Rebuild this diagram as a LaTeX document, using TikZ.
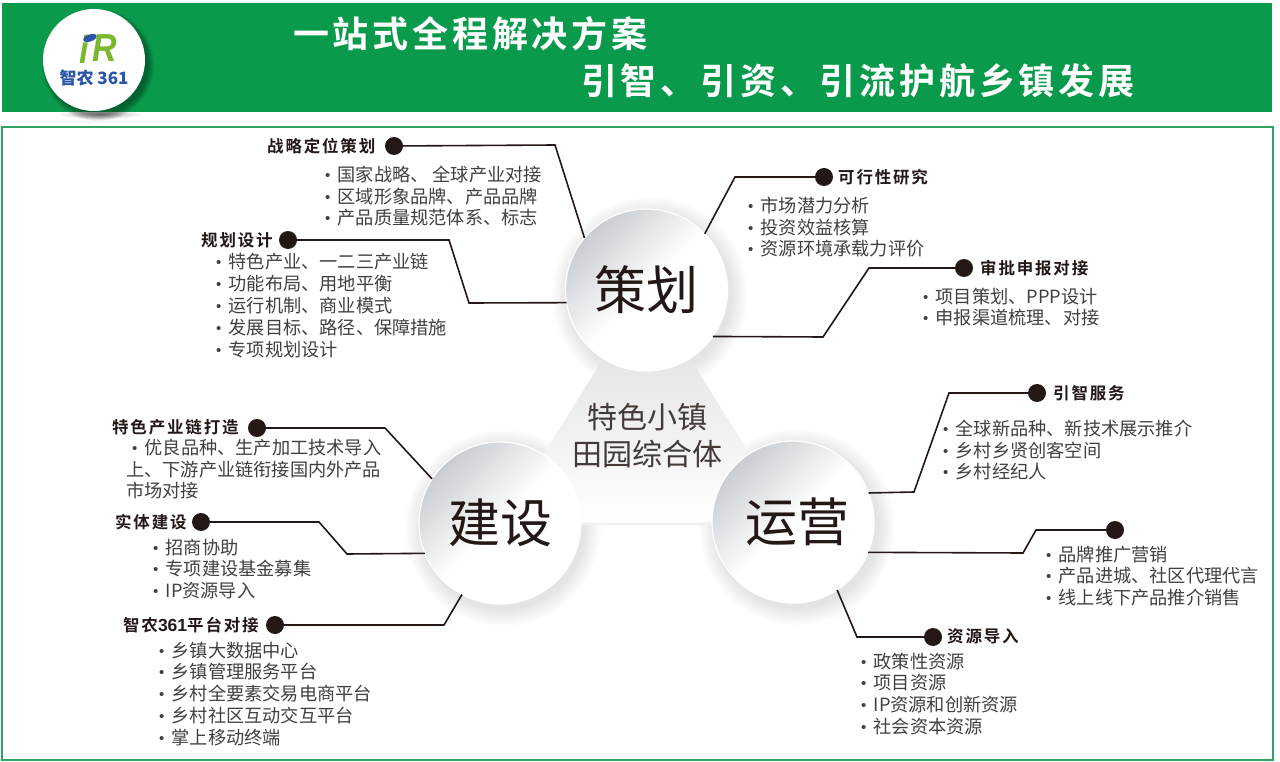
\documentclass[tikz,border=0pt]{standalone}
\usepackage{fontspec}
\usepackage{xcolor}
\setmainfont{Noto Sans CJK SC}
\newfontfamily\headfont[LetterSpace=11,BoldFont={Noto Sans CJK SC Bold}]{Noto Sans CJK SC}
\newfontfamily\titlefont[LetterSpace=10.5,BoldFont={Noto Sans CJK SC Bold}]{Noto Sans CJK SC}
\newfontfamily\logofont{Liberation Sans}
\definecolor{bannergreen}{HTML}{0A9A4C}
\definecolor{framegreen}{HTML}{2FA35F}
\definecolor{inkdark}{HTML}{231815}
\definecolor{listgray}{HTML}{404040}
\definecolor{logoblue}{HTML}{2A55A8}
\definecolor{logogreen}{HTML}{7AB82E}
\definecolor{platetop}{HTML}{C9CDD1}
\newcommand{\itm}{\makebox[12.5pt][l]{\logofont\fontsize{15}{15}\selectfont\raisebox{1pt}{•}}}
\tikzset{
    plate/.style={circle, minimum size=162pt, inner sep=0pt, outer sep=0pt, draw=white, line width=1.2pt,
        top color=platetop, bottom color=white, middle color=white, shading angle=45,
        text=inkdark, font=\fontsize{52}{52}\selectfont},
    dotnode/.style={circle, fill=inkdark, minimum size=18pt, inner sep=0pt, outer sep=0pt},
    headnode/.style={anchor=west, inner sep=0pt, text=inkdark, font=\headfont\bfseries\fontsize{16.5}{16.5}\selectfont},
    listnode/.style={anchor=north west, inner sep=0pt, align=left, text=listgray, font=\fontsize{18.2}{21.9}\selectfont},
    link/.style={draw=inkdark, line width=1.6pt},
    titlenode/.style={anchor=west, inner sep=0pt, text=white, font=\titlefont\bfseries\fontsize{36}{36}\selectfont}
}
\begin{document}
\begin{tikzpicture}[x=1pt,y=-1pt]
    \useasboundingbox (0,0) rectangle (1280,762);

    % Banner and frame
    \fill[bannergreen] (2,3) rectangle (1272,112);
    \draw[framegreen, line width=1.6pt] (2,127) rectangle (1273,760);
    \shade[inner color=gray!70, outer color=white] (100,114) ellipse (42 and 5);
    \fill[bannergreen] (60,103) rectangle (150,112);
    \foreach \r in {50,51,...,56} {
        \fill[black, opacity=.06] (98,65) circle (\r);
    }
    \fill[white] (94,60) circle (51);

    % Logo
    \node[inner sep=0pt, text=logogreen, yscale=1.15, transform shape, font=\logofont\bfseries\itshape\fontsize{34}{34}\selectfont] (logoi) at (84,49) {i};
    \node[inner sep=0pt, text=logogreen, yscale=1.15, transform shape, font=\logofont\bfseries\itshape\fontsize{34}{34}\selectfont] (logor) at (105,48) {R};
    \fill[logoblue, rotate around={20:(90,38)}] (90,38) ellipse (7 and 3.5);
    \node[inner sep=0pt, text=logoblue, font=\bfseries\fontsize{17}{17}\selectfont] (logotext) at (94,78) {智农 361};

    % Title
    \node[titlenode] (title1) at (293,34) {一站式全程解决方案};
    \node[titlenode] (title2) at (581,81) {引智、引资、引流护航乡镇发展};

    % Soft shadows and the middle triangle
    \foreach \x/\y in {650/295, 503/528, 797/527} {
        \foreach \r in {82,84,...,98} {
            \fill[black, opacity=.012] (\x,\y) circle (\r);
        }
    }
    \draw[gray!12, line width=2pt] (689,362) -- (745,459);
    \draw[gray!12, line width=2pt] (560,524) -- (730,524);
    \shade[top color=gray!28, bottom color=white] (646.5,290) -- (500,523) -- (793,522) -- cycle;

    % Circles
    \node[plate] (plan) at (646.5,290) {策划};
    \node[plate] (build) at (500,523) {建设};
    \node[plate] (run) at (793,522) {\hspace{8pt}运营};
    \node[inner sep=0pt, align=center, text=inkdark!85, font=\fontsize{30}{37}\selectfont] (town) at (647,436) {特色小镇\\田园综合体};

    % Points
    \node[dotnode] (P1) at (394,146) {};
    \node[dotnode] (P2) at (288,240) {};
    \node[dotnode] (P3) at (824,177) {};
    \node[dotnode] (P4) at (964,268) {};
    \node[dotnode] (R1) at (1037,393) {};
    \node[dotnode] (R2) at (1115,530) {};
    \node[dotnode] (R3) at (933,637) {};
    \node[dotnode] (B1) at (257,428) {};
    \node[dotnode] (B2) at (201,522) {};
    \node[dotnode] (B3) at (275,625) {};

    % Connectors
    \draw[link] (P1) -- (555,145) -- (plan.140);
    \draw[link] (P2) -- (449,240) -- (469,303) -- (plan.189);
    \draw[link] (P3) -- (735,177) -- (plan.44);
    \draw[link] (P4) -- (869,268) -- (823,337) -- (plan.-35);
    \draw[link] (R1) -- (949,393) -- (914,492) -- (run.21);
    \draw[link] (R2) -- (1036,530) -- (1023,553) -- (run.-22);
    \draw[link] (R3) -- (857,637) -- (run.-57);
    \draw[link] (B1) -- (385,428) -- (build.147);
    \draw[link] (B2) -- (319,522) -- (347,554) -- (build.202);
    \draw[link] (B3) -- (444,625) -- (build.242);

    % Headings
    \node[headnode] (HP1) at (267,146) {战略定位策划};
    \node[headnode] (HP2) at (201,240) {规划设计};
    \node[headnode] (HP3) at (838,177) {可行性研究};
    \node[headnode] (HP4) at (980,268) {审批申报对接};
    \node[headnode] (HR1) at (1053,393) {引智服务};
    \node[headnode] (HR3) at (947,636) {资源导入};
    \node[headnode] (HB1) at (112,427) {特色产业链打造};
    \node[headnode] (HB2) at (115,522) {实体建设};
    \node[headnode] (HB3) at (123,625) {智农{\logofont\bfseries\fontsize{17.5}{17.5}\selectfont 361}平台对接};

    % Lists
    \node[listnode] (LP1) at (325,165.5) {\itm 国家战略、 全球产业对接\\\itm 区域形象品牌、产品品牌\\\itm 产品质量规范体系、标志};
    \node[listnode] (LP2) at (216,253) {\itm 特色产业、一二三产业链\\\itm 功能布局、用地平衡\\\itm 运行机制、商业模式\\\itm 发展目标、路径、保障措施\\\itm 专项规划设计};
    \node[listnode] (LP3) at (748,196.5) {\itm 市场潜力分析\\\itm 投资效益核算\\\itm 资源环境承载力评价};
    \node[listnode] (LP4) at (923,287.5) {\itm 项目策划、PPP设计\\\itm 申报渠道梳理、对接};
    \node[listnode] (LR1) at (943,419.5) {\itm 全球新品种、新技术展示推介\\\itm 乡村乡贤创客空间\\\itm 乡村经纪人};
    \node[listnode] (LR2) at (1046,545.5) {\itm 品牌推广营销\\\itm 产品进城、社区代理代言\\\itm 线上线下产品推介销售};
    \node[listnode] (LR3) at (861,652.5) {\itm 政策性资源\\\itm 项目资源\\\itm IP资源和创新资源\\\itm 社会资本资源};
    \node[listnode] (LB1) at (126,438.5) {\hspace{6pt}\itm 优良品种、生产加工技术导入\\上、下游产业链衔接国内外产品\\市场对接};
    \node[listnode] (LB2) at (153,538.5) {\itm 招商协助\\\itm 专项建设基金募集\\\itm IP资源导入};
    \node[listnode] (LB3) at (159,641.5) {\itm 乡镇大数据中心\\\itm 乡镇管理服务平台\\\itm 乡村全要素交易电商平台\\\itm 乡村社区互动交互平台\\\itm 掌上移动终端};
\end{tikzpicture}
\end{document}
